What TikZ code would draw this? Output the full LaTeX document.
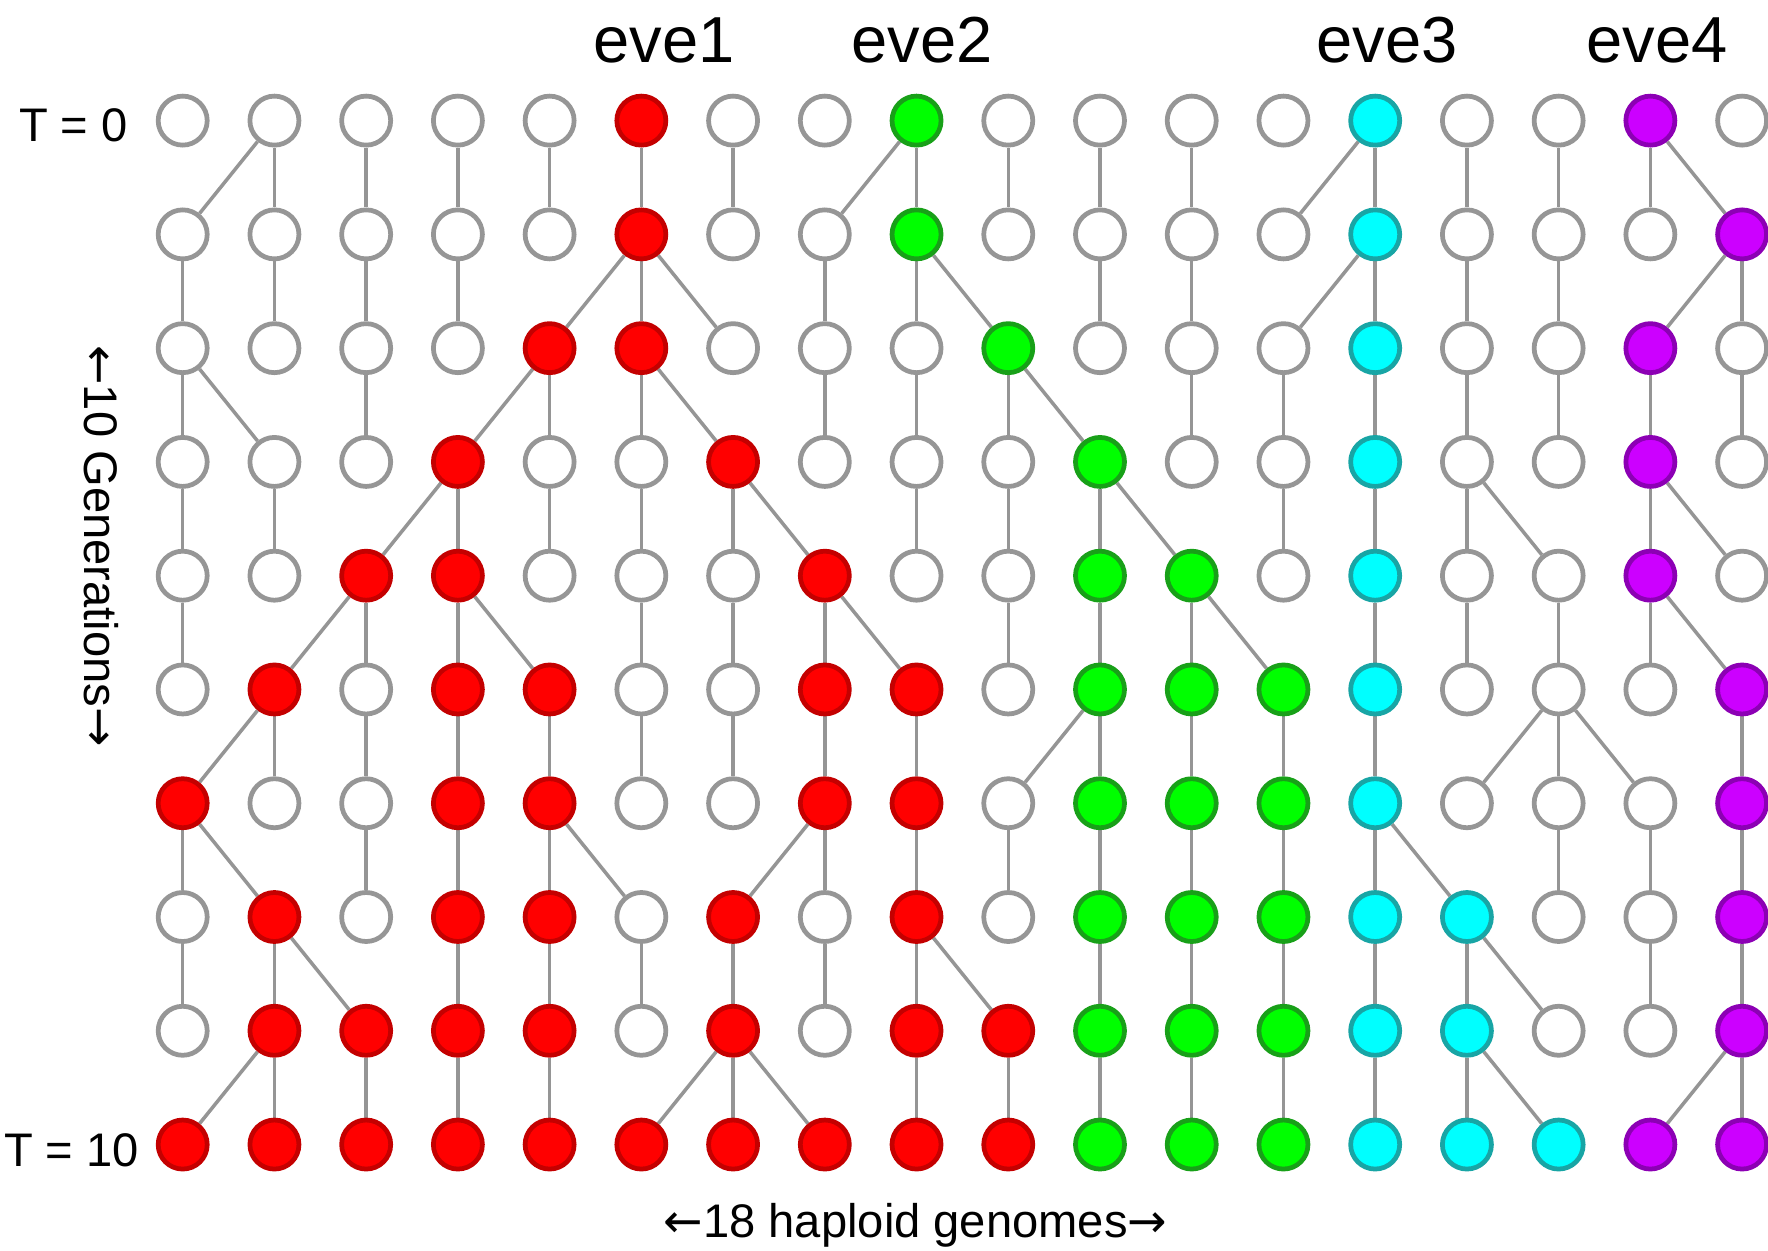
\documentclass[tikz,border=0pt]{standalone}
\usepackage{fontspec}
\setmainfont{Liberation Sans}
\newfontfamily\arrowfont{DejaVu Sans}
\pgfdeclarelayer{bg}
\pgfsetlayers{bg,main}

\definecolor{ringgray}{HTML}{969696}
\definecolor{linkgray}{HTML}{959595}
\definecolor{redfill}{HTML}{FF0000}
\definecolor{rededge}{HTML}{C40000}
\definecolor{greenfill}{HTML}{00FF00}
\definecolor{greenedge}{HTML}{18A018}
\definecolor{cyanfill}{HTML}{00FFFF}
\definecolor{cyanedge}{HTML}{18A5A5}
\definecolor{purplefill}{HTML}{CC00FF}
\definecolor{purpleedge}{HTML}{8C00B4}

\newcommand{\larr}{{\arrowfont ←}}
\newcommand{\rarr}{{\arrowfont →}}

\tikzset{
  genome/.style={circle, inner sep=0pt, minimum size=0.49cm, line width=1.35pt},
  nw/.style={genome, draw=ringgray, fill=white},
  nr/.style={genome, draw=rededge, fill=redfill},
  ng/.style={genome, draw=greenedge, fill=greenfill},
  nc/.style={genome, draw=cyanedge, fill=cyanfill},
  np/.style={genome, draw=purpleedge, fill=purplefill},
  link/.style={draw=linkgray, line width=1pt},
  evelabel/.style={anchor=base, inner sep=0pt, font=\fontsize{18.5}{22}\selectfont},
  sidelabel/.style={anchor=base, inner sep=0pt, font=\fontsize{13.4}{16}\selectfont},
}

\begin{document}
\begin{tikzpicture}[x=0.01cm, y=-0.01cm]
  \useasboundingbox (0,0) rectangle (1768,1250);
  \clip (0,0) rectangle (1768,1250);

  % genomes: one row per generation, 18 haploid genomes each
  \foreach \row [count=\t from 0] in {
    {nw,nw,nw,nw,nw,nr,nw,nw,ng,nw,nw,nw,nw,nc,nw,nw,np,nw},
    {nw,nw,nw,nw,nw,nr,nw,nw,ng,nw,nw,nw,nw,nc,nw,nw,nw,np},
    {nw,nw,nw,nw,nr,nr,nw,nw,nw,ng,nw,nw,nw,nc,nw,nw,np,nw},
    {nw,nw,nw,nr,nw,nw,nr,nw,nw,nw,ng,nw,nw,nc,nw,nw,np,nw},
    {nw,nw,nr,nr,nw,nw,nw,nr,nw,nw,ng,ng,nw,nc,nw,nw,np,nw},
    {nw,nr,nw,nr,nr,nw,nw,nr,nr,nw,ng,ng,ng,nc,nw,nw,nw,np},
    {nr,nw,nw,nr,nr,nw,nw,nr,nr,nw,ng,ng,ng,nc,nw,nw,nw,np},
    {nw,nr,nw,nr,nr,nw,nr,nw,nr,nw,ng,ng,ng,nc,nc,nw,nw,np},
    {nw,nr,nr,nr,nr,nw,nr,nw,nr,nr,ng,ng,ng,nc,nc,nw,nw,np},
    {nr,nr,nr,nr,nr,nr,nr,nr,nr,nr,ng,ng,ng,nc,nc,nc,np,np}} {
    \foreach \s [count=\i] in \row {
      \node[\s] (n-\t-\i) at ({182.7+91.73*(\i-1)},{120.6+113.77*\t}) {};
    }
  }

  % each genome linked to its parent in the previous generation
  \begin{pgfonlayer}{bg}
  \foreach \plist [count=\g] in {
    {2,2,3,4,5,6,7,9,9,10,11,12,14,14,15,16,17,17},
    {1,2,3,4,6,6,6,8,9,9,11,12,14,14,15,16,18,18},
    {1,1,3,5,5,6,6,8,9,10,10,12,13,14,15,16,17,18},
    {1,2,4,4,5,6,7,7,9,10,11,11,13,14,15,15,17,17},
    {1,3,3,4,4,6,7,8,8,10,11,12,12,14,15,16,17,17},
    {2,2,3,4,5,6,7,8,9,11,11,12,13,14,16,16,16,18},
    {1,1,3,4,5,5,8,8,9,10,11,12,13,14,14,16,17,18},
    {1,2,2,4,5,6,7,8,9,9,11,12,13,14,15,15,17,18},
    {2,2,3,4,5,7,7,7,9,10,11,12,13,14,15,15,18,18}} {
    \pgfmathtruncatemacro{\prev}{\g-1}
    \foreach \p [count=\i] in \plist {
      \draw[link] (n-\prev-\p) -- (n-\g-\i);
    }
  }
  \end{pgfonlayer}

  % labels
  \node[evelabel] (eve1) at (664,62) {eve1};
  \node[evelabel] (eve2) at (922,62) {eve2};
  \node[evelabel] (eve3) at (1387,62) {eve3};
  \node[evelabel] (eve4) at (1657,62) {eve4};

  \node[sidelabel] (tstart) at (73.5,141) {T = 0};
  \node[sidelabel] (tend) at (71.5,1166) {T = 10};
  \node[sidelabel] (width) at (915.5,1237) {\larr18 haploid genomes\rarr};
  \node[inner sep=0pt, rotate=-90, font=\fontsize{13.4}{16}\selectfont] (depth) at (101,546) {\larr10 Generations\rarr};
\end{tikzpicture}
\end{document}
